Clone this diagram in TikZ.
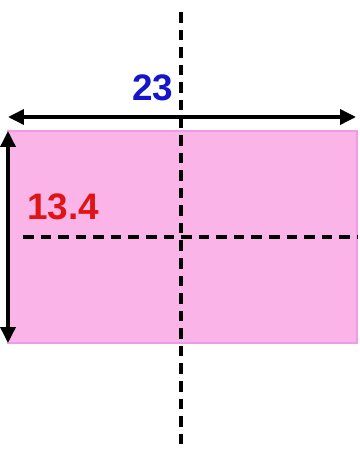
\documentclass[tikz,border=0pt]{standalone}
\usepackage{fontspec}
\setmainfont{Liberation Sans}
\usetikzlibrary{arrows.meta}
\definecolor{platepink}{HTML}{FBB4E8}
\definecolor{plateedge}{HTML}{EE9CE6}
\definecolor{dimblue}{HTML}{1414CC}
\definecolor{dimred}{HTML}{E01414}
\tikzset{
  axisline/.style={black,line width=1.8pt,dash pattern=on 6pt off 4pt},
  dimarrow/.style={black,line width=2pt,{Triangle[length=3.2mm,width=3mm]}-{Triangle[length=3.2mm,width=3mm]}},
  dimlabel/.style={font=\bfseries\fontsize{21}{25}\selectfont,inner sep=0pt}
}
\begin{document}
\begin{tikzpicture}[x=0.02cm,y=-0.02cm]
\useasboundingbox (0,0) rectangle (359,449);
\coordinate (NW) at (8,131);
\coordinate (SE) at (357,343);
\fill[platepink,draw=plateedge,line width=0.6pt] (NW) rectangle (SE);
\coordinate (vtop) at (181,12);
\coordinate (vbot) at (181,449);
\coordinate (hleft) at (23,237);
\coordinate (hright) at (357,237);
\draw[axisline] (vtop)--(vbot);
\draw[axisline] (hleft)--(hright);
\coordinate (wl) at (8,117);
\coordinate (wr) at (356,117);
\draw[dimarrow] (wl)--(wr);
\coordinate (ht) at (8,131);
\coordinate (hb) at (8,343);
\draw[dimarrow] (ht)--(hb);
\node[dimlabel,text=dimblue] (w) at (153,88) {23};
\node[dimlabel,text=dimred] (h) at (63,207) {13.4};
\end{tikzpicture}
\end{document}
